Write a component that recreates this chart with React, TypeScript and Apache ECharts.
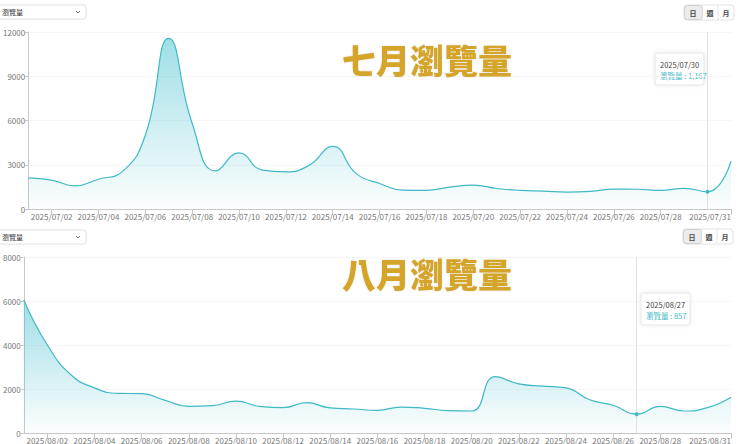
import { useEffect, useRef } from "react";
import * as echarts from "echarts";

const julyDates = [
  "2025/07/01", "2025/07/02", "2025/07/03", "2025/07/04", "2025/07/05", "2025/07/06",
  "2025/07/07", "2025/07/08", "2025/07/09", "2025/07/10", "2025/07/11", "2025/07/12",
  "2025/07/13", "2025/07/14", "2025/07/15", "2025/07/16", "2025/07/17", "2025/07/18",
  "2025/07/19", "2025/07/20", "2025/07/21", "2025/07/22", "2025/07/23", "2025/07/24",
  "2025/07/25", "2025/07/26", "2025/07/27", "2025/07/28", "2025/07/29", "2025/07/30",
  "2025/07/31",
];
const julyViews = [
  2110, 1960, 1570, 2020, 2520, 5000, 11570, 5800, 2580, 3800, 2630, 2520, 2970, 4240,
  2400, 1730, 1280, 1260, 1480, 1620, 1390, 1260, 1210, 1150, 1190, 1350, 1340, 1260,
  1400, 1167, 3240,
];
const augDates = [
  "2025/08/01", "2025/08/02", "2025/08/03", "2025/08/04", "2025/08/05", "2025/08/06",
  "2025/08/07", "2025/08/08", "2025/08/09", "2025/08/10", "2025/08/11", "2025/08/12",
  "2025/08/13", "2025/08/14", "2025/08/15", "2025/08/16", "2025/08/17", "2025/08/18",
  "2025/08/19", "2025/08/20", "2025/08/21", "2025/08/22", "2025/08/23", "2025/08/24",
  "2025/08/25", "2025/08/26", "2025/08/27", "2025/08/28", "2025/08/29", "2025/08/30",
  "2025/08/31",
];
const augViews = [
  6050, 4000, 2650, 2050, 1800, 1790, 1480, 1210, 1240, 1450, 1210, 1150, 1380, 1140,
  1090, 1030, 1180, 1120, 1020, 1000, 2560, 2230, 2130, 2050, 1510, 1260, 857, 1210,
  1000, 1150, 1630,
];
const titles = ["七月瀏覽量", "八月瀏覽量"];
const metricName = "瀏覽量";
const periodButtons = ["日", "週", "月"];
const julyYTicks = { max: 12000, interval: 3000 };
const augYTicks = { max: 8000, interval: 2000 };
const julyHighlight = "2025/07/30";
const augHighlight = "2025/08/27";

const FONT = '"Noto Sans CJK TC", "Noto Sans", sans-serif';
const LINE = "#3fb9c6";

// x labels every other day, skip the one next to the last
const showLabel = (i: number) => (i % 2 === 1 && i < 29) || i === 30;

function xAxisFor(dates: string[], gridIndex: number) {
  return {
    type: "category",
    gridIndex,
    data: dates,
    boundaryGap: false,
    axisLine: { lineStyle: { color: "#c8c8c8" } },
    axisTick: { interval: showLabel, length: 6, lineStyle: { color: "#c8c8c8" } },
    axisLabel: {
      interval: showLabel,
      margin: 3,
      fontSize: 8,
      color: "#777",
      fontFamily: FONT,
      alignMaxLabel: "right",
    },
  };
}

function yAxisFor(ticks: { max: number; interval: number }, gridIndex: number) {
  return {
    type: "value",
    gridIndex,
    min: 0,
    max: ticks.max,
    interval: ticks.interval,
    axisLine: { show: true, lineStyle: { color: "#c8c8c8" } },
    axisTick: { show: true, length: 3, lineStyle: { color: "#c8c8c8" } },
    axisLabel: {
      fontSize: 8,
      color: "#777",
      margin: 3,
      fontFamily: FONT,
      formatter: (v: number) => String(v),
    },
    splitLine: { lineStyle: { color: "#f6f6f6" } },
  };
}

function seriesFor(values: number[], dates: string[], highlight: string, idx: number) {
  const hi = dates.indexOf(highlight);
  return {
    type: "line",
    xAxisIndex: idx,
    yAxisIndex: idx,
    data: values,
    smooth: true,
    showSymbol: false,
    lineStyle: { color: LINE, width: 1.2 },
    itemStyle: { color: LINE },
    areaStyle: {
      color: new echarts.graphic.LinearGradient(0, 0, 0, 1, [
        { offset: 0, color: "rgba(64,190,206,0.72)" },
        { offset: 1, color: "rgba(64,190,206,0.02)" },
      ]),
    },
    markLine: {
      silent: true,
      symbol: "none",
      label: { show: false },
      lineStyle: { color: "#e0e0e0", width: 1, type: "solid" },
      data: [{ xAxis: highlight }],
    },
    markPoint: {
      symbol: "circle",
      symbolSize: 4,
      label: { show: false },
      itemStyle: { color: LINE },
      data: [{ coord: [highlight, values[hi]] }],
    },
  };
}

function dropdown(y: number) {
  return {
    type: "group",
    x: 0,
    y,
    children: [
      {
        type: "rect",
        shape: { x: -4, y: 0, width: 90, height: 14, r: 3 },
        style: { fill: "#fff", stroke: "#e2e2e2", lineWidth: 1, shadowBlur: 2, shadowColor: "rgba(0,0,0,0.06)" },
      },
      {
        type: "text",
        x: 2,
        y: 7,
        style: { text: metricName, font: `7px ${FONT}`, fill: "#333", textVerticalAlign: "middle" },
      },
      {
        type: "polyline",
        shape: { points: [[76, 6], [78, 8], [80, 6]] },
        style: { stroke: "#666", lineWidth: 0.9, fill: "none" },
      },
    ],
  };
}

function buttons(x: number, y: number) {
  const w = [18, 16, 16];
  const children: any[] = [
    {
      type: "rect",
      shape: { x: 0, y: 0, width: 50, height: 15, r: 3 },
      style: { fill: "#fff", stroke: "#e2e2e2", lineWidth: 1 },
    },
    {
      type: "rect",
      shape: { x: 0.5, y: 0.5, width: 18, height: 14, r: 3 },
      style: { fill: "#ececec", stroke: "#cfcfcf", lineWidth: 1 },
    },
  ];
  let cx = 0;
  periodButtons.forEach((b, i) => {
    if (i > 0) {
      children.push({
        type: "line",
        shape: { x1: cx, y1: 0, x2: cx, y2: 15 },
        style: { stroke: "#e6e6e6", lineWidth: 1 },
      });
    }
    children.push({
      type: "text",
      x: cx + w[i] / 2,
      y: 7.5,
      style: {
        text: b,
        font: `bold 7px ${FONT}`,
        fill: "#444",
        textAlign: "center",
        textVerticalAlign: "middle",
      },
    });
    cx += w[i];
  });
  return { type: "group", x, y, children };
}

function tipBox(x: number, y: number, date: string, value: number) {
  return {
    type: "group",
    x,
    y,
    z: 100,
    children: [
      {
        type: "rect",
        shape: { x: 0, y: 0, width: 49, height: 32, r: 2 },
        style: { fill: "#fff", stroke: "#e6e6e6", lineWidth: 1, shadowBlur: 4, shadowColor: "rgba(0,0,0,0.08)" },
      },
      {
        type: "text",
        x: 5,
        y: 11,
        style: { text: date, font: `7.5px ${FONT}`, fill: "#444", textVerticalAlign: "middle" },
      },
      {
        type: "text",
        x: 5,
        y: 22,
        style: {
          text: `${metricName} : ${value.toLocaleString("en-US")}`,
          font: `7.5px ${FONT}`,
          fill: "#3fb9c6",
          textVerticalAlign: "middle",
        },
      },
    ],
  };
}

export default function App() {
  const chartRef = useRef<HTMLDivElement>(null);

  useEffect(() => {
    if (!chartRef.current) return;
    const chart = echarts.init(chartRef.current, null, { renderer: "svg" });

    const titleStyle = {
      fontSize: 34,
      fontWeight: 900,
      color: "#D5A52C",
      fontFamily: FONT,
      textShadowColor: "rgba(0,0,0,0.12)",
      textShadowBlur: 2,
    };

    chart.setOption({
      animation: false,
      backgroundColor: "#fff",
      title: [
        { text: titles[0], left: 337, top: 37, textStyle: titleStyle },
        { text: titles[1], left: 337, top: 251, textStyle: titleStyle },
      ],
      grid: [
        { left: 23, right: 9, top: 32, height: 177 },
        { left: 22, right: 9, top: 257, height: 176 },
      ],
      xAxis: [xAxisFor(julyDates, 0), xAxisFor(augDates, 1)],
      yAxis: [yAxisFor(julyYTicks, 0), yAxisFor(augYTicks, 1)],
      series: [
        seriesFor(julyViews, julyDates, julyHighlight, 0),
        seriesFor(augViews, augDates, augHighlight, 1),
      ],
      graphic: [
        dropdown(5),
        dropdown(230),
        buttons(684, 5),
        buttons(683, 229),
        tipBox(655, 53, julyHighlight, julyViews[julyDates.indexOf(julyHighlight)]),
        tipBox(641, 293, augHighlight, augViews[augDates.indexOf(augHighlight)]),
      ],
    });

    return () => {
      chart.dispose();
    };
  }, []);

  return (
    <div
      ref={chartRef}
      style={{ position: "absolute", left: 0, top: 0, width: "740px", height: "444px" }}
    />
  );
}
